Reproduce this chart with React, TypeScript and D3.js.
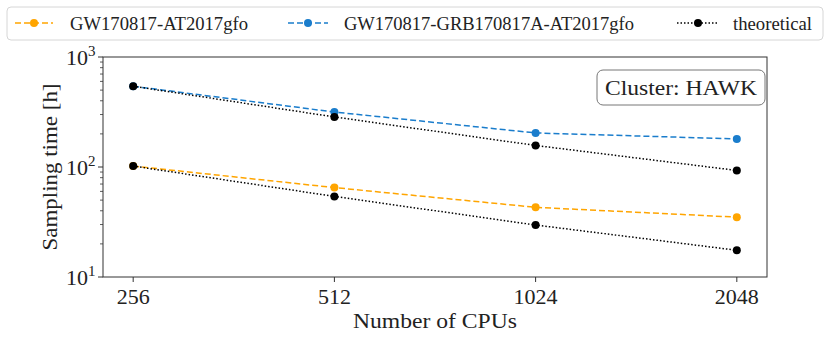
import React from "react";
import * as d3 from "d3";

const cpus = [256, 512, 1024, 2048];
const gwAt = [102, 65, 43, 35];
const gwGrbAt = [542, 316, 204, 180];
const theoryUpper = [542, 285, 157, 93];
const theoryLower = [102, 54, 29.7, 17.5];
const yMajor = [10, 100, 1000];
const yExp = ["1", "2", "3"];

const W = 831, H = 337;
const L = 103, R = 767, T = 57, B = 277;
const FONT = "Liberation Serif, DejaVu Serif, Times New Roman, serif";
const ORANGE = "#FFA500";
const BLUE = "#1a7dcc";
const TS = { fontFamily: FONT };

export default function App() {
  const x = d3.scaleLog().base(2).domain([256 / Math.pow(2, 0.15), 2048 * Math.pow(2, 0.15)]).range([L, R]);
  const y = d3.scaleLog().domain([10, 1000]).range([B, T]);
  const line = d3.line<number>().x((_, i) => x(cpus[i])).y((d) => y(d));
  const minor: number[] = [];
  [10, 100].forEach((b) => { for (let k = 2; k <= 9; k++) minor.push(b * k); });

  const series = [
    { vals: gwAt, color: ORANGE, dash: "6,3" },
    { vals: gwGrbAt, color: BLUE, dash: "6,3" },
    { vals: theoryUpper, color: "#000", dash: "1.5,2" },
    { vals: theoryLower, color: "#000", dash: "1.5,2" },
  ];

  const legend = [
    { label: "GW170817-AT2017gfo", color: ORANGE, dash: "6,3", x0: 15, x1: 53, tx: 70, tl: 178 },
    { label: "GW170817-GRB170817A-AT2017gfo", color: BLUE, dash: "6,3", x0: 288, x1: 328, tx: 344, tl: 290 },
    { label: "theoretical", color: "#000", dash: "1.5,2", x0: 677, x1: 719, tx: 733, tl: 79 },
  ];

  return (
    <svg width={W} height={H} style={{ position: "absolute", left: 0, top: 0, fontFamily: FONT }}>
      <rect x={0} y={0} width={W} height={H} fill="#fff" />
      {/* legend */}
      <rect x={7} y={7} width={816} height={33} rx={4} fill="#fff" stroke="#d6d6d6" strokeWidth={1} />
      {legend.map((l, i) => (
        <g key={i}>
          <line x1={l.x0} x2={l.x1} y1={23} y2={23} stroke={l.color} strokeWidth={1.5} strokeDasharray={l.dash} />
          <circle cx={(l.x0 + l.x1) / 2} cy={23} r={4} fill={l.color} />
          <text style={TS} x={l.tx} y={30} fontSize={19} fill="#222" textLength={l.tl} lengthAdjust="spacingAndGlyphs">{l.label}</text>
        </g>
      ))}
      {/* axes frame */}
      <rect x={L} y={T} width={R - L} height={B - T} fill="none" stroke="#333" strokeWidth={1} />
      {/* y ticks */}
      {yMajor.map((v, i) => (
        <g key={"ym" + i}>
          <line x1={L - 5} x2={L} y1={y(v)} y2={y(v)} stroke="#333" />
          <text style={TS} x={L - 15} y={y(v) + 8} fontSize={22} textAnchor="end" fill="#222">10</text>
          <text style={TS} x={L - 15} y={y(v) - 1} fontSize={15} textAnchor="start" fill="#222">{yExp[i]}</text>
        </g>
      ))}
      {minor.map((v, i) => (
        <line key={"yn" + i} x1={L - 3} x2={L} y1={y(v)} y2={y(v)} stroke="#333" strokeWidth={0.8} />
      ))}
      {/* x ticks */}
      {cpus.map((c, i) => (
        <g key={"x" + i}>
          <line x1={x(c)} x2={x(c)} y1={B} y2={B + 5} stroke="#333" />
          <text style={TS} x={x(c)} y={304} fontSize={22} textAnchor="middle" fill="#222">{c}</text>
        </g>
      ))}
      <text style={TS} x={(L + R) / 2} y={328} fontSize={22} textAnchor="middle" fill="#222" textLength={164} lengthAdjust="spacingAndGlyphs">Number of CPUs</text>
      <text style={TS} transform={`translate(57,${(T + B) / 2}) rotate(-90)`} fontSize={22} textAnchor="middle" fill="#222" textLength={167} lengthAdjust="spacingAndGlyphs">Sampling time [h]</text>
      {/* series */}
      {series.map((s, i) => (
        <g key={"s" + i}>
          <path d={line(s.vals) || ""} fill="none" stroke={s.color} strokeWidth={1.5} strokeDasharray={s.dash} />
          {s.vals.map((v, j) => (
            <circle key={j} cx={x(cpus[j])} cy={y(v)} r={4} fill={s.color} />
          ))}
        </g>
      ))}
      {/* cluster box */}
      <rect x={597} y={70} width={168} height={35} rx={6} fill="#fff" stroke="#777" strokeWidth={1} />
      <text style={TS} x={605} y={95} fontSize={22} fill="#222" textLength={152} lengthAdjust="spacingAndGlyphs">Cluster: HAWK</text>
    </svg>
  );
}
